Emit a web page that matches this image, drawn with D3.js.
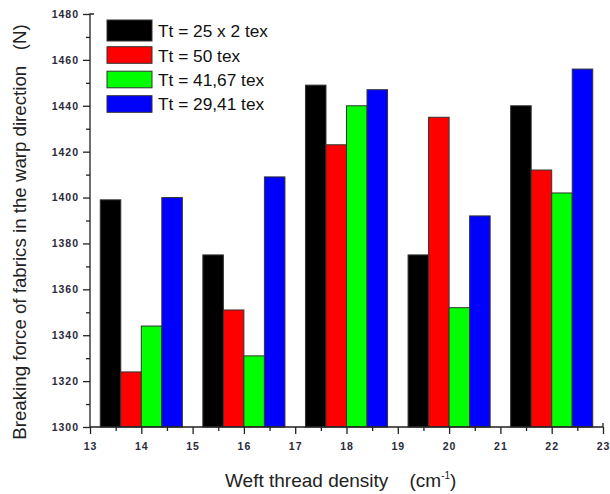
<!DOCTYPE html>
<html><head><meta charset="utf-8">
<script src="https://cdn.jsdelivr.net/npm/d3@7"></script>
<style>body{margin:0;background:#fff}svg{display:block}text{font-family:Arial,"Liberation Sans",sans-serif}</style>
</head><body><svg id="c" width="610" height="494"></svg>
<script>
const categories = [14, 16, 18, 20, 22];
const seriesNames = ["Tt = 25 x 2 tex", "Tt = 50 tex", "Tt = 41,67 tex", "Tt = 29,41 tex"];
const seriesColors = ["#000000", "#ff0000", "#00ff00", "#0000ff"];
const s1 = [1399, 1375, 1449, 1375, 1440];
const s2 = [1324, 1351, 1423, 1435, 1412];
const s3 = [1344, 1331, 1440, 1352, 1402];
const s4 = [1400, 1409, 1447, 1392, 1456];
const series = [s1, s2, s3, s4];
const xTicks = [13,14,15,16,17,18,19,20,21,22,23];
const yTicks = [1300,1320,1340,1360,1380,1400,1420,1440,1460,1480];

const svg = d3.select("#c");
const L = 90, R = 603, T = 14, B = 427;
const x = d3.scaleLinear().domain([13, 23]).range([L, R]);
const y = d3.scaleLinear().domain([1300, 1480]).range([B, T]);
const barW = 0.4;

const g = svg.append("g");
series.forEach((s, si) => {
  g.selectAll(null).data(categories).enter().append("rect")
    .attr("x", (c) => x(c - 2*barW + si*barW))
    .attr("width", (c) => x(c - 2*barW + (si+1)*barW) - x(c - 2*barW + si*barW))
    .attr("y", (c, i) => y(s[i]))
    .attr("height", (c, i) => B - y(s[i]))
    .attr("fill", seriesColors[si])
    .attr("stroke", "#333").attr("stroke-width", 1);
});

// axes
const xAxis = d3.axisBottom(x).tickValues(xTicks).tickFormat(d3.format("d")).tickSize(7).tickPadding(9);
const xMinor = d3.axisBottom(x).tickValues(d3.range(13.5, 23, 1)).tickFormat("").tickSize(4);
const yAxis = d3.axisLeft(y).tickValues(yTicks).tickFormat(d3.format("d")).tickSize(7).tickPadding(4);
const yMinor = d3.axisLeft(y).tickValues(d3.range(1310, 1480, 20)).tickFormat("").tickSize(4);

function style(ax) {
  ax.select(".domain").attr("stroke", "#222").attr("stroke-width", 1.3);
  ax.selectAll(".tick line").attr("stroke", "#222").attr("stroke-width", 1.3);
  ax.selectAll("text").attr("font-size", 10.5).attr("fill", "#2a2a3a").attr("letter-spacing", "1px").attr("font-weight", "bold");
}
const gx = svg.append("g").attr("transform", `translate(0,${B})`).call(xAxis); style(gx);
const gxm = svg.append("g").attr("transform", `translate(0,${B})`).call(xMinor); style(gxm);
gx.select(".domain").attr("d", `M${L},0H${R}V-4`);
gxm.select(".domain").remove();
const gy = svg.append("g").attr("transform", `translate(${L},0)`).call(yAxis); style(gy);
const gym = svg.append("g").attr("transform", `translate(${L},0)`).call(yMinor); style(gym);
gy.select(".domain").attr("d", `M4,${T}H0V${B}`);
gym.select(".domain").remove();

// axis titles
svg.append("text").attr("x", 225).attr("y", 487).attr("text-anchor", "start")
  .attr("font-size", 19).attr("fill", "#222")
  .html('Weft thread density\u00a0\u00a0\u00a0 (cm<tspan dy="-8" font-size="10">-1</tspan><tspan dy="8">)</tspan>');
svg.append("text").attr("transform", "translate(26,232) rotate(-90)").attr("text-anchor", "middle")
  .attr("font-size", 18.7).attr("fill", "#222")
  .text("Breaking force of fabrics in the warp direction\u00a0\u00a0\u00a0(N)");

// legend
const lg = svg.append("g");
const boxTop = [20, 46.7, 71.2, 95.7];
const boxH = [21, 16.6, 16.6, 16.6];
const textBase = [36.7, 61.7, 86, 110.3];
seriesNames.forEach((n, i) => {
  lg.append("rect").attr("x", 107).attr("y", boxTop[i]).attr("width", 45).attr("height", boxH[i])
    .attr("fill", seriesColors[i]).attr("stroke", "#333").attr("stroke-width", 1);
  lg.append("text").attr("x", 158).attr("y", textBase[i]).attr("font-size", 17.3).attr("fill", "#111").text(n);
});
</script></body></html>
